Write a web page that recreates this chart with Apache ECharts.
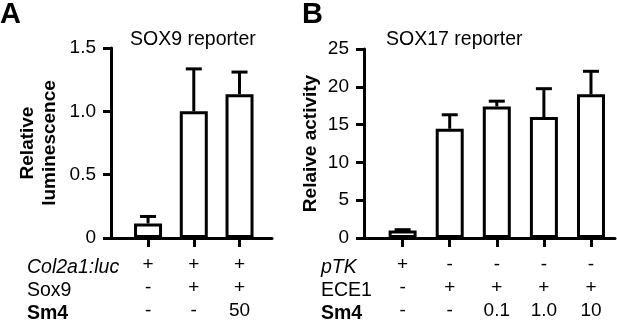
<!DOCTYPE html>
<html>
<head>
<meta charset="utf-8">
<script src="https://cdn.jsdelivr.net/npm/echarts@6/dist/echarts.min.js"></script>
<style>
  html, body { margin: 0; padding: 0; background: #fff; }
  #chart { width: 617px; height: 322px; }
</style>
</head>
<body>
<div id="chart"></div>
<script>
// panel A - SOX9 reporter
const colsA = [1, 2, 3];
const meanA = [0.115, 1.0, 1.135];
const errA = [0.055, 0.335, 0.175];
const rowNamesA = ['Col2a1:luc', 'Sox9', 'Sm4'];
const col2a1Luc = ['+', '+', '+'];
const sox9 = ['-', '+', '+'];
const sm4A = ['-', '-', '50'];

// panel B - SOX17 reporter
const colsB = [1, 2, 3, 4, 5];
const meanB = [1.0, 14.45, 17.4, 16.0, 19.0];
const errB = [0.1, 1.85, 0.7, 3.75, 3.05];
const rowNamesB = ['pTK', 'ECE1', 'Sm4'];
const pTK = ['+', '-', '-', '-', '-'];
const ece1 = ['-', '+', '+', '+', '+'];
const sm4B = ['-', '-', '0.1', '1.0', '10'];

const FONT = 'Liberation Sans, Arial, Helvetica, sans-serif';
const LW = 3;
const FS = 19;

let chart = echarts.init(document.getElementById('chart'));

function errorItem(params, api) {
  let x = api.value(0), y = api.value(1), e = api.value(2);
  let p0 = api.coord([x, y]);
  let p1 = api.coord([x, y + e]);
  let half = 8;
  let style = {stroke: '#000', lineWidth: LW};
  return {
    type: 'group',
    children: [
      {type: 'line', shape: {x1: p0[0], y1: p0[1], x2: p1[0], y2: p1[1]}, style: style},
      {type: 'line', shape: {x1: p1[0] - half, y1: p1[1], x2: p1[0] + half, y2: p1[1]}, style: style}
    ]
  };
}

function xAxisFor(idx, min, max, cols, rows) {
  return {
    type: 'value', gridIndex: idx, min: min, max: max,
    splitLine: {show: false},
    axisLine: {lineStyle: {color: '#000', width: LW}},
    axisTick: {customValues: cols, length: 9, lineStyle: {color: '#000', width: LW}},
    axisLabel: {
      customValues: cols, margin: 15, color: '#000', fontFamily: FONT, fontSize: FS,
      lineHeight: 23,
      formatter: function (v) {
        let i = Math.round(v) - 1;
        return rows.map(function (r) { return r[i]; }).join('\n');
      }
    }
  };
}

function yAxisFor(idx, max, interval, name, gap, fmt) {
  return {
    type: 'value', gridIndex: idx, min: 0, max: max, interval: interval,
    name: name, nameLocation: 'middle', nameGap: gap,
    nameTextStyle: {color: '#000', fontFamily: FONT, fontSize: 19, fontWeight: 'bold', lineHeight: 22},
    splitLine: {show: false},
    axisLine: {show: true, lineStyle: {color: '#000', width: LW}},
    axisTick: {show: true, length: 8, lineStyle: {color: '#000', width: LW}},
    axisLabel: {color: '#000', fontFamily: FONT, fontSize: FS, margin: 15, formatter: fmt}
  };
}

function rowLabels(x, names) {
  return {
    type: 'text', left: x, top: 258,
    style: {
      text: '{i|' + names[0] + '}\n{n|' + names[1] + '}\n{b|' + names[2] + '}',
      fill: '#000',
      rich: {
        i: {fontFamily: FONT, fontSize: 19.5, fontStyle: 'italic', lineHeight: 23, fill: '#000'},
        n: {fontFamily: FONT, fontSize: 19.5, lineHeight: 23, fill: '#000'},
        b: {fontFamily: FONT, fontSize: 19.5, fontWeight: 'bold', lineHeight: 23, fill: '#000'}
      }
    }
  };
}

let barStyle = {color: '#fff', borderColor: '#000', borderWidth: LW};

let option = {
  animation: false,
  backgroundColor: '#fff',
  title: [
    {text: 'A', left: 0, top: 0, padding: 0, textStyle: {fontFamily: FONT, fontSize: 29, fontWeight: 'bold', color: '#000'}},
    {text: 'B', left: 302, top: 0, padding: 0, textStyle: {fontFamily: FONT, fontSize: 29, fontWeight: 'bold', color: '#000'}},
    {text: 'SOX9 reporter', left: 130, top: 30, padding: 0, textStyle: {fontFamily: FONT, fontSize: 19.5, fontWeight: 'normal', color: '#000'}},
    {text: 'SOX17 reporter', left: 386, top: 30, padding: 0, textStyle: {fontFamily: FONT, fontSize: 19.5, fontWeight: 'normal', color: '#000'}}
  ],
  grid: [
    {left: 111, top: 48, width: 161, height: 193.5},
    {left: 364, top: 49, width: 251, height: 192.5}
  ],
  xAxis: [
    xAxisFor(0, 0.19, 3.71, colsA, [col2a1Luc, sox9, sm4A]),
    xAxisFor(1, 0.18, 5.51, colsB, [pTK, ece1, sm4B])
  ],
  yAxis: [
    yAxisFor(0, 1.5, 0.5, 'Relative\nluminescence', 50, function (v) { return v === 0 ? '0' : v.toFixed(1); }),
    yAxisFor(1, 25, 5, 'Relaive activity', 42, function (v) { return String(v); })
  ],
  graphic: [rowLabels(27, rowNamesA), rowLabels(321, rowNamesB)],
  series: [
    {type: 'bar', xAxisIndex: 0, yAxisIndex: 0, barWidth: 28, itemStyle: barStyle,
     data: colsA.map(function (c, i) { return [c, meanA[i]]; })},
    {type: 'custom', xAxisIndex: 0, yAxisIndex: 0, renderItem: errorItem, z: 3,
     data: colsA.map(function (c, i) { return [c, meanA[i], errA[i]]; })},
    {type: 'bar', xAxisIndex: 1, yAxisIndex: 1, barWidth: 28, itemStyle: barStyle,
     data: colsB.map(function (c, i) { return [c, meanB[i]]; })},
    {type: 'custom', xAxisIndex: 1, yAxisIndex: 1, renderItem: errorItem, z: 3,
     data: colsB.map(function (c, i) { return [c, meanB[i], errB[i]]; })}
  ]
};

chart.setOption(option);
</script>
</body>
</html>
